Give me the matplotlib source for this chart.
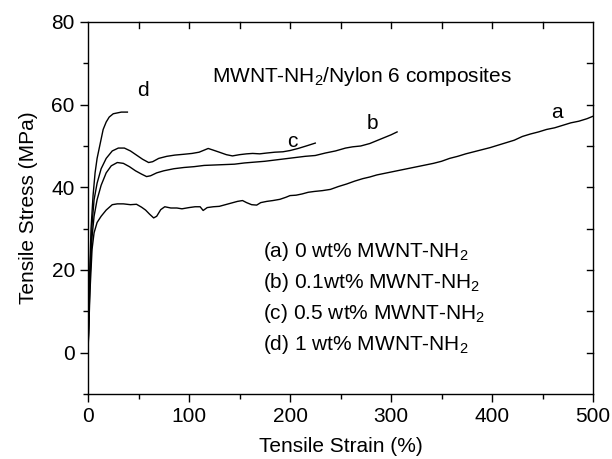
import matplotlib
matplotlib.use("Agg")
import matplotlib.pyplot as plt
from matplotlib.ticker import MultipleLocator

plt.rcParams['font.family'] = ['Liberation Sans', 'DejaVu Sans']
plt.rcParams['mathtext.fontset'] = 'custom'
plt.rcParams['mathtext.rm'] = 'Liberation Sans'
plt.rcParams['mathtext.default'] = 'regular'

# curve a: 0 wt%
a_x = [0, 2, 4, 6, 9, 13, 18, 24, 29, 35, 42, 48, 53, 57, 61, 65, 68, 72, 76, 82,
       88, 93, 100, 106, 111, 114, 118, 124, 130, 136, 142, 148, 153, 157, 162, 167,
       171, 177, 183, 190, 196, 200, 206, 212, 218, 224, 232, 240, 248, 256, 264,
       272, 279, 286, 294, 302, 310, 318, 326, 334, 342, 350, 358, 366, 374, 382,
       390, 398, 406, 414, 422, 430, 438, 446, 454, 462, 470, 478, 486, 494, 500]
a_y = [0, 15, 25, 29, 31.5, 33, 34.5, 35.8, 36, 36, 35.8, 35.9, 35.2, 34.5, 33.5,
       32.6, 33, 34.6, 35.3, 35, 35, 34.8, 35.1, 35.3, 35.3, 34.4, 35.1, 35.3, 35.4,
       35.8, 36.2, 36.6, 36.8, 36.3, 35.8, 35.7, 36.3, 36.6, 36.8, 37.1, 37.6, 38,
       38.1, 38.4, 38.8, 39.0, 39.2, 39.5, 40.2, 40.8, 41.5, 42.1, 42.5, 43.0, 43.4,
       43.8, 44.2, 44.6, 45.0, 45.4, 45.8, 46.3, 47.0, 47.5, 48.1, 48.6, 49.1, 49.6,
       50.2, 50.8, 51.4, 52.3, 52.9, 53.4, 54.0, 54.4, 55.0, 55.6, 56.0, 56.6, 57.2]

# curve b: 0.1 wt%
b_x = [0, 2, 4, 6, 9, 13, 18, 23, 29, 35, 41, 47, 53, 58, 62, 68, 75, 85, 95, 105,
       115, 125, 135, 145, 155, 165, 175, 185, 195, 205, 215, 225, 235, 245, 255,
       262, 270, 279, 287, 295, 300, 306]
b_y = [0, 18, 28, 33, 37, 40.5, 43.5, 45.2, 46, 45.8, 45, 44, 43.2, 42.6, 42.8,
       43.5, 44, 44.5, 44.8, 45, 45.3, 45.4, 45.5, 45.6, 45.9, 46.1, 46.3, 46.6,
       46.9, 47.2, 47.5, 47.7, 48.3, 48.8, 49.5, 49.8, 50, 50.6, 51.4, 52.2, 52.7, 53.4]

# curve c: 0.5 wt%
c_x = [0, 2, 4, 6, 9, 13, 18, 24, 30, 36, 42, 48, 54, 60, 64, 70, 78, 86, 95, 103,
       110, 115, 119, 124, 130, 137, 143, 150, 157, 163, 170, 177, 185, 193, 200,
       208, 216, 225]
c_y = [0, 20, 31, 37, 41, 44.5, 47, 48.8, 49.5, 49.5, 48.8, 47.8, 46.8, 46.0, 46.2,
       47, 47.5, 47.8, 48, 48.2, 48.5, 49, 49.4, 49, 48.5, 47.9, 47.6, 47.9, 48.1,
       48.2, 48.1, 48.3, 48.5, 48.6, 48.9, 49.4, 50, 50.7]

# curve d: 1 wt%
d_x = [0, 1, 2, 3, 5, 7, 9, 12, 15, 18, 21, 25, 29, 33, 37, 39]
d_y = [0, 12, 22, 30, 38, 43.5, 47, 50.5, 54, 55.8, 57, 57.8, 58.0, 58.2, 58.2, 58.2]

legend_lines = ['(a) 0 wt% MWNT-NH$_2$', '(b) 0.1wt% MWNT-NH$_2$',
                '(c) 0.5 wt% MWNT-NH$_2$', '(d) 1 wt% MWNT-NH$_2$']

fs = 15

fig = plt.figure(figsize=(6.12, 4.59), dpi=100)
ax = fig.add_axes([0.1438, 0.1416, 0.8252, 0.8105])

for xs, ys in [(a_x, a_y), (b_x, b_y), (c_x, c_y), (d_x, d_y)]:
    ax.plot(xs, ys, color='black', lw=1.0)

ax.set_xlim(0, 500)
ax.set_ylim(-10, 80)
ax.xaxis.set_major_locator(MultipleLocator(100))
ax.xaxis.set_minor_locator(MultipleLocator(50))
ax.yaxis.set_major_locator(MultipleLocator(20))
ax.yaxis.set_minor_locator(MultipleLocator(10))
ax.tick_params(which='both', direction='out', labelsize=fs, width=1, top=False, right=False)
ax.tick_params(which='major', length=6)
ax.tick_params(which='minor', length=3.5)
for s in ax.spines.values():
    s.set_linewidth(1)

# inward ticks on top and right
for xv in range(50, 500, 50):
    ax.plot([xv, xv], [80, 78.6], color='black', lw=1, clip_on=False)
for yv in range(0, 80, 10):
    ax.plot([500, 494], [yv, yv], color='black', lw=1, clip_on=False)

ax.set_xlabel('Tensile Strain (%)', fontsize=fs, labelpad=8)
ax.set_ylabel('Tensile Stress (MPa)', fontsize=fs, labelpad=10)

ax.text(123, 66.7, 'MWNT-NH$_2$/Nylon 6 composites', fontsize=fs, va='center')
ax.text(54, 63.5, 'd', fontsize=fs, ha='center', va='center')
ax.text(202, 51.2, 'c', fontsize=fs, ha='center', va='center')
ax.text(282, 55.5, 'b', fontsize=fs, ha='center', va='center')
ax.text(464, 58.2, 'a', fontsize=fs, ha='center', va='center')

for i, t in enumerate(legend_lines):
    ax.text(173, 24.4 - 7.5 * i, t, fontsize=fs, va='center')

fig.savefig('out.png', dpi=100)
